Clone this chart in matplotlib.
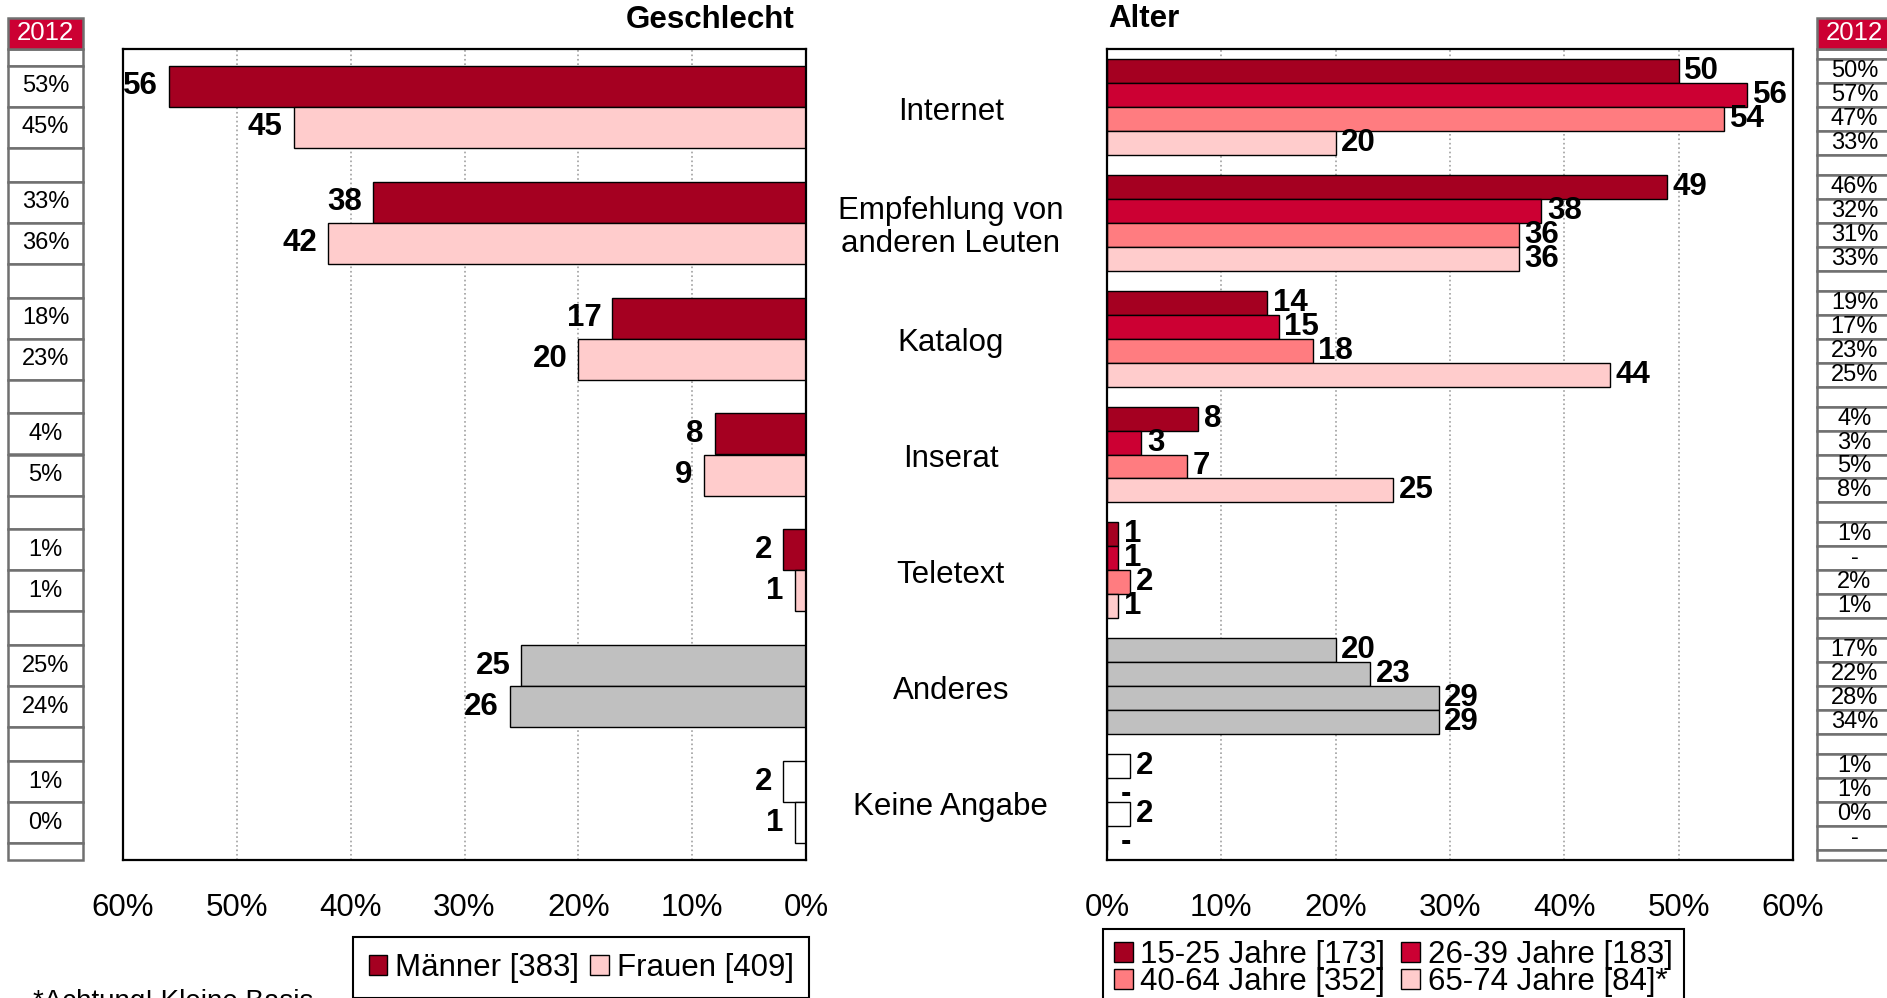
import matplotlib
matplotlib.use("Agg")
import matplotlib.pyplot as plt
from matplotlib.patches import Rectangle, Patch

plt.rcParams['font.family'] = ['Liberation Sans', 'DejaVu Sans']

# data
categories = ['Internet', 'Empfehlung von\nanderen Leuten', 'Katalog', 'Inserat',
              'Teletext', 'Anderes', 'Keine Angabe']
maenner = [56, 38, 17, 8, 2, 25, 2]
frauen = [45, 42, 20, 9, 1, 26, 1]
age_15_25 = [50, 49, 14, 8, 1, 20, 2]
age_26_39 = [56, 38, 15, 3, 1, 23, 0]
age_40_64 = [54, 36, 18, 7, 2, 29, 2]
age_65_74 = [20, 36, 44, 25, 1, 29, 0]

maenner_2012 = ['53%', '33%', '18%', '4%', '1%', '25%', '1%']
frauen_2012 = ['45%', '36%', '23%', '5%', '1%', '24%', '0%']
age_15_25_2012 = ['50%', '46%', '19%', '4%', '1%', '17%', '1%']
age_26_39_2012 = ['57%', '32%', '17%', '3%', '-', '22%', '1%']
age_40_64_2012 = ['47%', '31%', '23%', '5%', '2%', '28%', '0%']
age_65_74_2012 = ['33%', '33%', '25%', '8%', '1%', '34%', '-']

gender_labels = ['Männer [383]', 'Frauen [409]']
age_labels = ['15-25 Jahre [173]', '26-39 Jahre [183]', '40-64 Jahre [352]', '65-74 Jahre [84]*']
ticks = [0, 10, 20, 30, 40, 50, 60]

gender_colors = ['#A50021', '#FFCCCC']
age_colors = ['#A50021', '#CC0033', '#FF7C80', '#FFCCCC']
special = {5: '#C0C0C0', 6: '#FFFFFF'}  # Anderes grey, Keine Angabe white

W, H = 1887, 998
fig = plt.figure(figsize=(W / 100, H / 100), dpi=100)


def px_axes(x0, y0, x1, y1):
    return fig.add_axes([x0 / W, 1 - y1 / H, (x1 - x0) / W, (y1 - y0) / H])


FS = 22.5
n = len(categories)
ylim = (n - 0.5, -0.5)


def setup_axis(ax, inverted):
    ax.set_ylim(*ylim)
    ax.set_xlim((60, 0) if inverted else (0, 60))
    ax.set_xticks(ticks)
    ax.set_xticklabels([f'{t}%' for t in ticks], fontsize=FS)
    ax.set_yticks([])
    ax.tick_params(axis='x', length=0, pad=24)
    ax.grid(axis='x', color='#A0A0A0', linestyle=':', linewidth=1.2)
    ax.set_axisbelow(True)
    for s in ax.spines.values():
        s.set_linewidth(1.6)
        s.set_color('black')


def bar_colors(base):
    return [special.get(i, base) for i in range(n)]


# --- Geschlecht ---
axl = px_axes(123, 49, 806, 860)
setup_axis(axl, True)
hg = 0.355
for k, (vals, col) in enumerate(zip([maenner, frauen], gender_colors)):
    ys = [i + (k - 0.5) * hg for i in range(n)]
    axl.barh(ys, vals, height=hg, color=bar_colors(col), edgecolor='black', linewidth=1.0)
    for y, v in zip(ys, vals):
        axl.annotate(str(v), (v, y), xytext=(-8, 0), textcoords='offset points',
                     ha='right', va='center', fontsize=FS, fontweight='bold')

for i, c in enumerate(categories):
    axl.text(1.212, i + 0.04, c, transform=axl.get_yaxis_transform(), ha='center', va='center',
             fontsize=FS, linespacing=1.1)

# --- Alter ---
axr = px_axes(1107, 49, 1793, 860)
setup_axis(axr, False)
ha_ = 0.207
for k, (vals, col) in enumerate(zip([age_15_25, age_26_39, age_40_64, age_65_74], age_colors)):
    ys = [i + (k - 1.5) * ha_ for i in range(n)]
    axr.barh(ys, vals, height=ha_, color=bar_colors(col), edgecolor='black', linewidth=1.0)
    for y, v in zip(ys, vals):
        if v == 0:
            axr.annotate('-', (v, y), xytext=(10, -3), textcoords='offset points',
                         ha='left', va='center', fontsize=FS, fontweight='bold')
        else:
            axr.annotate(str(v), (v, y), xytext=(4, 0), textcoords='offset points',
                         ha='left', va='center', fontsize=FS, fontweight='bold')

fig.text(710 / W, 1 - 20 / H, 'Geschlecht', ha='center', va='center', fontsize=FS, fontweight='bold')
fig.text(1108 / W, 1 - 19 / H, 'Alter', ha='left', va='center', fontsize=FS, fontweight='bold')


# --- 2012 side tables ---
def draw_table(ax, columns, row_h):
    ax.set_ylim(*ylim)
    ax.set_xlim(0, 1)
    ax.axis('off')
    m = len(columns)
    edges = [ylim[1]]
    for i in range(n):
        edges += [i - m * row_h / 2 + j * row_h for j in range(m + 1)]
    edges.append(ylim[0])
    for a, b in zip(edges[:-1], edges[1:]):
        if b - a > 1e-6:
            ax.add_patch(Rectangle((0, a), 1, b - a, facecolor='white', edgecolor='#707070',
                                   linewidth=1.8, clip_on=False))
    for j, col in enumerate(columns):
        for i, t in enumerate(col):
            ax.text(0.5, i - m * row_h / 2 + (j + 0.5) * row_h, t, ha='center', va='center',
                    fontsize=17, clip_on=False)
    ax.add_patch(Rectangle((0, -0.77), 1, 0.27, facecolor='#CC0033', edgecolor='#707070',
                           linewidth=1.8, clip_on=False))
    ax.text(0.5, -0.635, '2012', ha='center', va='center', color='white', fontsize=18.5)


tl = px_axes(8, 49, 83, 860)
draw_table(tl, [maenner_2012, frauen_2012], hg)
tr = px_axes(1817, 49, 1892, 860)
draw_table(tr, [age_15_25_2012, age_26_39_2012, age_40_64_2012, age_65_74_2012], ha_)

# --- legends ---
leg_kw = dict(fontsize=FS, frameon=True, fancybox=False, edgecolor='black', framealpha=1,
              handlelength=0.6, handleheight=0.6, handletextpad=0.25, borderaxespad=0,
              loc='upper left')
h1 = [Patch(facecolor=c, edgecolor='black') for c in gender_colors]
lg1 = fig.legend(h1, gender_labels, ncol=2, borderpad=0.5, columnspacing=0.35,
                 bbox_to_anchor=(353 / W, 1 - 937 / H), **leg_kw)
lg1.get_frame().set_linewidth(1.5)
# matplotlib fills legend columns first; reorder so rows read 15-25, 26-39 / 40-64, 65-74
order = [0, 2, 1, 3]
h2 = [Patch(facecolor=age_colors[i], edgecolor='black') for i in order]
lg2 = fig.legend(h2, [age_labels[i] for i in order], ncol=2, labelspacing=-0.1, borderpad=0.35,
                 columnspacing=0.5, bbox_to_anchor=(1103 / W, 1 - 929 / H), **leg_kw)
lg2.get_frame().set_linewidth(1.5)

fig.text(33 / W, 1 - 989 / H, '*Achtung! Kleine Basis', ha='left', va='top', fontsize=20)

fig.savefig('out.png', dpi=100)
